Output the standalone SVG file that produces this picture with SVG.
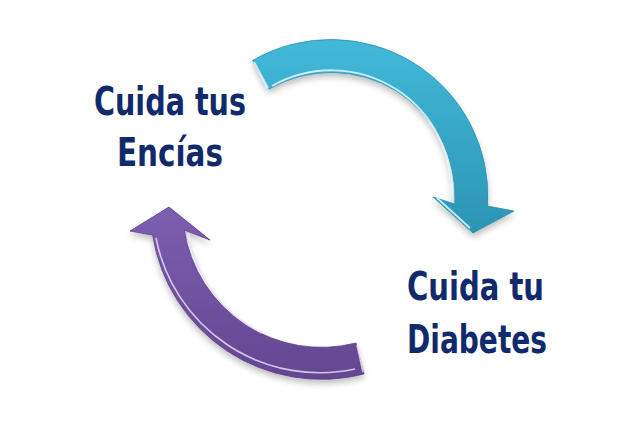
<svg xmlns="http://www.w3.org/2000/svg" width="640" height="429" viewBox="0 0 640 429">
  <defs>
    <linearGradient id="gBlue" x1="0" y1="0" x2="0" y2="1">
      <stop offset="0" stop-color="#42b9d9"/>
      <stop offset="1" stop-color="#2c94b3"/>
    </linearGradient>
    <linearGradient id="gPurple" x1="0" y1="0" x2="0" y2="1">
      <stop offset="0" stop-color="#7d5fb0"/>
      <stop offset="1" stop-color="#634690"/>
    </linearGradient>
    <filter id="shadow" x="-20%" y="-20%" width="140%" height="140%">
      <feGaussianBlur in="SourceAlpha" stdDeviation="3"/>
      <feOffset dx="0" dy="4" result="b"/>
      <feComponentTransfer><feFuncA type="linear" slope="0.25"/></feComponentTransfer>
      <feMerge><feMergeNode/><feMergeNode in="SourceGraphic"/></feMerge>
    </filter>
    <style>
      .lbl { font-family: 'DejaVu Sans Condensed', 'DejaVu Sans', sans-serif; font-weight: bold; font-size: 39px; fill: #112a6c; }
      .hiB { fill: none; stroke: #d8f4fb; stroke-width: 1.8; opacity: 0.9; }
      .hiP { fill: none; stroke: #e6dcf7; stroke-width: 1.6; opacity: 0.85; }
    </style>
  </defs>
  <rect width="640" height="429" fill="#ffffff"/>

  <g id="connectors">
    <g id="arrow-blue" filter="url(#shadow)">
      <path d="M252.5,60.5 A157,157 0 0 1 487.7,206.1 L514,211 L473,233 L433,197 L454.8,204.1 A124,124 0 0 0 269,89.1 Z" fill="url(#gBlue)" stroke="#2a8fae" stroke-width="0.8"/>
      <path class="hiB" d="M272,86 A120,120 0 0 1 451,200"/>
      <path class="hiB" d="M254,62 L268,88"/>
      <path class="hiB" d="M437,198 L470,228"/>
    </g>
    <g id="arrow-purple" filter="url(#shadow)">
      <path d="M356,343 A139,139 0 0 1 184.2,230.1 L210,240 L169,207 L130,231 L152.6,235.1 A171,171 0 0 0 364,374 Z" fill="url(#gPurple)" stroke="#5b3f86" stroke-width="0.8"/>
      <path class="hiP" d="M156,238 A167,167 0 0 0 355,369"/>
      <path class="hiP" d="M357,345 L363,372"/>
      <path class="hiP" d="M188,233 A135,135 0 0 0 262,333"/>
    </g>
  </g>

  <g id="node-encias">
    <text class="lbl" x="94" y="115" textLength="152" lengthAdjust="spacingAndGlyphs">Cuida tus</text>
    <text class="lbl" x="117" y="166" textLength="106" lengthAdjust="spacingAndGlyphs">Encías</text>
  </g>
  <g id="node-diabetes">
    <text class="lbl" x="407" y="300" textLength="137" lengthAdjust="spacingAndGlyphs">Cuida tu</text>
    <text class="lbl" x="407" y="353" textLength="140" lengthAdjust="spacingAndGlyphs">Diabetes</text>
  </g>
</svg>
